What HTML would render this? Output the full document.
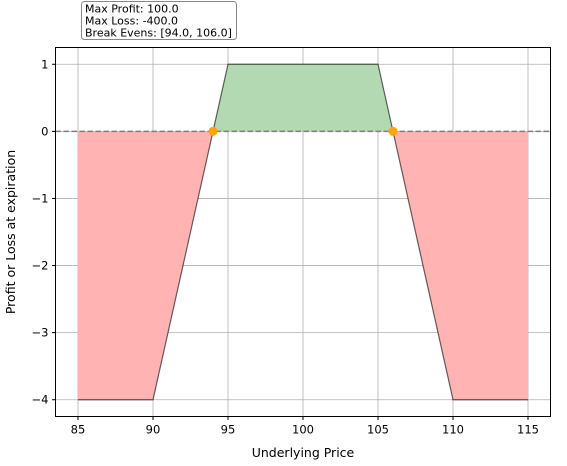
<!DOCTYPE html>
<html><head><meta charset="utf-8"><style>
body{margin:0;background:#fff;}
svg text{font-family:"DejaVu Sans","Liberation Sans",sans-serif;}
</style></head><body>
<svg id="chart" width="567" height="461" xmlns="http://www.w3.org/2000/svg">
<g id="grid"></g>
<g id="fills"></g>
<g id="marks"></g>
<rect x="55.5" y="47.5" width="495" height="369" fill="none" stroke="#000" stroke-width="1"/>
<g id="ticks"></g>
<text x="303" y="457" font-size="12.5" text-anchor="middle">Underlying Price</text>
<text transform="translate(15,232) rotate(-90)" font-size="12.5" text-anchor="middle">Profit or Loss at expiration</text>
<g>
<rect x="81.5" y="1.5" width="155" height="38" rx="3" fill="#fff" stroke="#888"/>
<text x="85" y="12.5" font-size="11">Max Profit: 100.0</text>
<text x="85" y="24.5" font-size="11">Max Loss: -400.0</text>
<text x="85" y="36.5" font-size="11">Break Evens: [94.0, 106.0]</text>
</g>
</svg>
<script>
const prices=[85,90,94,95,105,106,110,115];
const pnl=[-4,-4,0,1,1,0,-4,-4];
const breakEvens=[94,106];
const xTicks=[85,90,95,100,105,110,115];
const yTicks=[1,0,-1,-2,-3,-4];
const X0=83.5,X1=116.5,Y0=-4.25,Y1=1.25;
const L=55.5,R=550.5,T=47.5,B=416.5;
const sx=v=>L+(v-X0)/(X1-X0)*(R-L);
const sy=v=>B-(v-Y0)/(Y1-Y0)*(B-T);
const NS="http://www.w3.org/2000/svg";
function mk(tag,attrs,parent){const e=document.createElementNS(NS,tag);for(const k in attrs)e.setAttribute(k,attrs[k]);document.getElementById(parent).appendChild(e);return e;}
xTicks.forEach(t=>{
 const g=mk('line',{x1:sx(t),x2:sx(t),y1:T,y2:B,stroke:'#b0b0b0','stroke-width':0.8},'grid');
 
 
 const tk=mk('line',{x1:sx(t),x2:sx(t),y1:B,y2:B+3.5,stroke:'#000'},'ticks');
 
 
 const tx=mk('text',{x:sx(t),y:B+17,'font-size':11.5,'text-anchor':'middle'},'ticks');tx.textContent=t;
 
 
});
yTicks.forEach(t=>{
 const g=mk('line',{x1:L,x2:R,y1:sy(t),y2:sy(t),stroke:'#b0b0b0','stroke-width':0.8},'grid');
 
 
 const tk=mk('line',{x1:L-3.5,x2:L,y1:sy(t),y2:sy(t),stroke:'#000'},'ticks');
 
 
 const tx=mk('text',{x:L-7,y:sy(t)+4,'font-size':11.5,'text-anchor':'end'},'ticks');tx.textContent=(t<0?'\u2212'+(-t):t);
 
 
});
let pos='',neg='';
for(let i=0;i<prices.length-1;i++){
 const a=prices[i],b=prices[i+1],va=pnl[i],vb=pnl[i+1];
 const seg=(x1,v1,x2,v2)=>`M${sx(x1)},${sy(0)}L${sx(x1)},${sy(v1)}L${sx(x2)},${sy(v2)}L${sx(x2)},${sy(0)}Z`;
 if(va>=0&&vb>=0) pos+=seg(a,va,b,vb);
 else if(va<=0&&vb<=0) neg+=seg(a,va,b,vb);
 else{const xc=a+(b-a)*(0-va)/(vb-va);
  if(va>0){pos+=seg(a,va,xc,0);neg+=seg(xc,0,b,vb);}else{neg+=seg(a,va,xc,0);pos+=seg(xc,0,b,vb);}}
}
const pf=mk('path',{d:pos,fill:'#b3d9b3'},'fills');


const nf=mk('path',{d:neg,fill:'#ffb3b3'},'fills');


const zl=mk('line',{x1:L,x2:R,y1:sy(0),y2:sy(0),stroke:'#7f7f7f','stroke-width':1.5,'stroke-dasharray':'5.5,2.5'},'marks');


const pl=mk('polyline',{points:prices.map((p,i)=>sx(p)+','+sy(pnl[i])).join(' '),fill:'none',stroke:'#000','stroke-opacity':0.6,'stroke-width':1.2},'marks');


breakEvens.forEach(b=>{
 const c=mk('circle',{cx:sx(b),cy:sy(0),r:4.5,fill:'#ffa500'},'marks');
 
 
});
</script>
</body></html>
